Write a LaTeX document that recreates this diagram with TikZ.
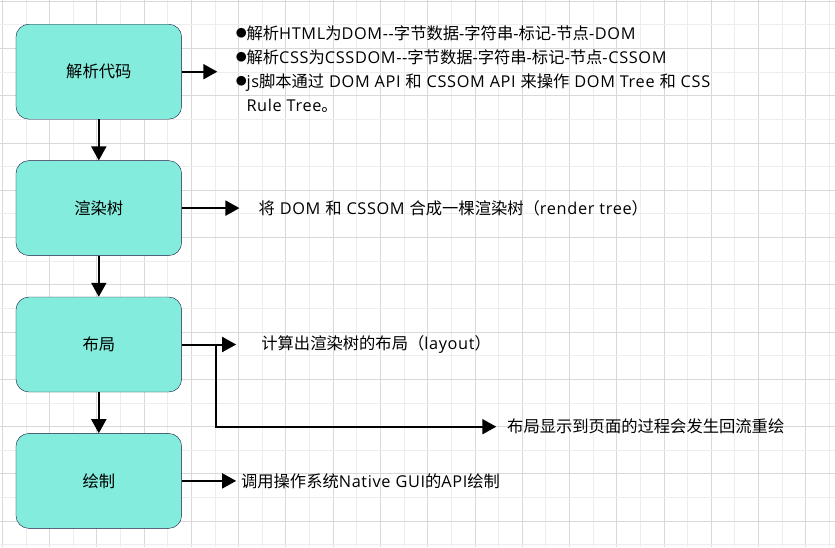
\documentclass[tikz,border=0pt]{standalone}
\usepackage{fontspec}
\setmainfont{Open Sans}[LetterSpace=4]
\newfontfamily\cjk{Noto Sans CJK SC}
\usetikzlibrary{arrows.meta,positioning}
\definecolor{stagefill}{HTML}{84ECDC}
\definecolor{stageline}{HTML}{1A1A40}
\definecolor{gridmajor}{HTML}{D9D9D9}
\definecolor{gridminor}{HTML}{EDEDED}
\newcommand\dotitem{\makebox[13pt][l]{\hspace{1.5pt}\scalebox{1.45}{$\bullet$}}}

\begin{document}
\begin{tikzpicture}[
  x=1pt, y=-1pt,
  node distance=41pt,
  stage/.style={draw=stageline, fill=stagefill, rounded corners=13pt, minimum width=165.7pt, minimum height=95pt, font=\fontsize{16.3}{24}\selectfont\cjk},
  note/.style={align=left, inner ysep=0pt, font=\fontsize{16.3}{24}\selectfont},
  arrow/.style={-{Triangle[length=14pt,width=15pt]}, line width=2pt},
  majorgrid/.style={draw=gridmajor, line width=1pt},
  minorgrid/.style={draw=gridminor, line width=1pt}
]
\useasboundingbox (0,0) rectangle (835,547);
\fill[white] (0,0) rectangle (835,547);
% background grid
\foreach \i in {0,...,17} {
  \draw[majorgrid] (2.4+47.26*\i,0) -- (2.4+47.26*\i,547);
  \draw[minorgrid] (26.03+47.26*\i,0) -- (26.03+47.26*\i,547);
}
\foreach \j in {0,...,11} {
  \draw[majorgrid] (0,1.3+47.26*\j) -- (835,1.3+47.26*\j);
  \draw[minorgrid] (0,24.93+47.26*\j) -- (835,24.93+47.26*\j);
}
% stages
\node[stage] (parse) at (98.8,71.7) {解析代码};
\node[stage, below=of parse] (rendertree) {渲染树};
\node[stage, below=of rendertree] (layout) {布局};
\node[stage, below=of layout] (paint) {绘制};
% notes
\node[note, anchor=north west, inner xsep=16pt] (parsenote) at (217.3,25) {\dotitem{\cjk 解析}HTML{\cjk 为}DOM-{}-{\cjk 字节数据}-{\cjk 字符串}-{\cjk 标记}-{\cjk 节点}-DOM\\
\dotitem{\cjk 解析}CSS{\cjk 为}CSSDOM-{}-{\cjk 字节数据}-{\cjk 字符串}-{\cjk 标记}-{\cjk 节点}-CSSOM\\
\dotitem js{\cjk 脚本通过} DOM API {\cjk 和} CSSOM API {\cjk 来操作} DOM Tree {\cjk 和} CSS\\
\hphantom{\dotitem}Rule Tree{\cjk 。}};
\node[note, right=57.6pt of rendertree, inner xsep=19pt] (rendernote) {{\cjk 将} DOM {\cjk 和} CSSOM {\cjk 合成一棵渲染树（}render tree{\cjk ）}};
\node[note, right=54.3pt of layout, inner xsep=25pt] (layoutnote) {{\cjk 计算出渲染树的布局（}layout{\cjk ）}};
\node[note, right=54.3pt of paint, inner xsep=4.7pt] (paintnote) {{\cjk 调用操作系统}Native GUI{\cjk 的}API{\cjk 绘制}};
\node[note, anchor=west, inner xsep=10.7pt] (reflownote) at (496.3,426.7) {{\cjk 布局显示到页面的过程会发生回流重绘}};
\coordinate[right=34pt of layout.east] (fork);
% connectors
\draw[arrow] (parse) -- (rendertree);
\draw[arrow] (rendertree) -- (layout);
\draw[arrow] (layout) -- (paint);
\draw[arrow] (parse.east) -- (parse.east -| parsenote.west);
\draw[arrow] (rendertree) -- (rendernote);
\draw[arrow] (layout) -- (layoutnote);
\draw[arrow] (paint) -- (paintnote);
\draw[arrow] (layout.east) -- (fork) |- (reflownote);
\end{tikzpicture}
\end{document}
